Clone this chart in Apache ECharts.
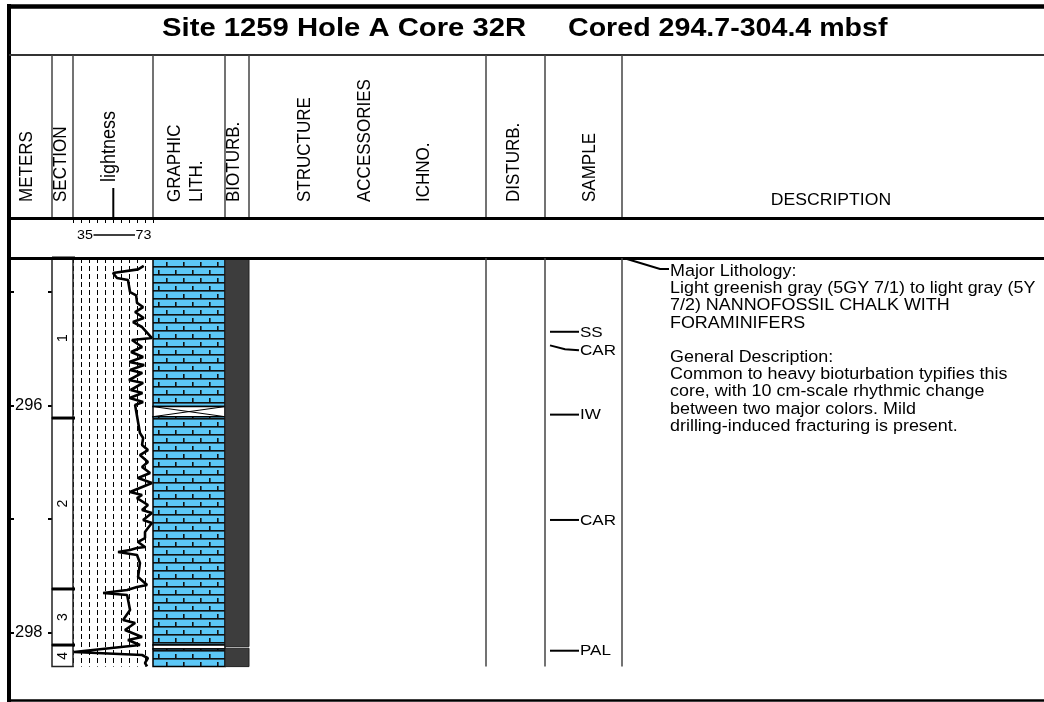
<!DOCTYPE html>
<html><head><meta charset="utf-8">
<script src="https://cdn.jsdelivr.net/npm/echarts@6/dist/echarts.min.js"></script>
<style>html,body{margin:0;padding:0;background:#fff}#c{width:1044px;height:702px}</style>
</head><body><div id="c"></div>
<script>
// ---------------- data ----------------
const titleLeft = 'Site 1259 Hole A Core 32R';
const titleRight = 'Cored 294.7-304.4 mbsf';
const coreTop = 294.7;
const coreBottom = 298.3;
const meterTicks = [295, 296, 297, 298];
const meterLabels = [296, 298];
const lightnessMin = 35;
const lightnessMax = 73;
const lightnessStep = 3.8;
const sectionNames = ['1', '2', '3', '4'];
const sectionTops = [294.7, 296.11, 297.616, 298.11];
const sectionBottoms = [296.11, 297.616, 298.11, 298.3];
const lithTops = [294.7, 296.009, 296.098, 298.110, 298.145];
const lithBottoms = [296.009, 296.098, 298.110, 298.145, 298.3];
const lithTypes = ['chalk', 'void', 'chalk', 'void', 'chalk'];
const bioturbTops = [294.7, 298.138];
const bioturbBottoms = [298.124, 298.3];
const sampleDepths = [295.35, 295.47, 296.08, 297.008, 298.160];
const sampleLabels = ['SS', 'CAR', 'IW', 'CAR', 'PAL'];
const lightDepth = [294.77, 294.8, 294.832, 294.876, 294.894, 295.0, 295.03, 295.096, 295.132, 295.176, 295.229, 295.264, 295.308, 295.405, 295.422, 295.484, 295.528, 295.572, 295.616, 295.643, 295.687, 295.713, 295.775, 295.801, 295.863, 295.889, 295.933, 295.969, 295.995, 296.242, 296.286, 296.348, 296.392, 296.436, 296.497, 296.541, 296.594, 296.638, 296.682, 296.762, 296.788, 296.815, 296.876, 296.92, 296.947, 297.008, 297.035, 297.079, 297.114, 297.167, 297.202, 297.246, 297.255, 297.273, 297.29, 297.317, 297.387, 297.511, 297.581, 297.599, 297.625, 297.652, 297.669, 297.801, 297.889, 297.916, 297.978, 298.039, 298.066, 298.11, 298.171, 298.198, 298.225, 298.268, 298.298];
const lightValue = [68.6, 65.9, 54.0, 55.9, 61.1, 62.1, 65.0, 65.4, 68.3, 64.5, 68.6, 63.5, 67.8, 72.5, 63.0, 67.8, 62.6, 68.3, 61.8, 68.8, 62.1, 67.9, 61.6, 68.3, 62.4, 68.0, 61.9, 68.3, 64.5, 66.8, 68.3, 67.8, 70.6, 66.8, 70.6, 67.8, 71.6, 65.9, 72.5, 62.1, 67.8, 65.4, 70.6, 67.8, 72.5, 68.3, 72.5, 70.6, 69.2, 69.2, 65.9, 69.2, 65.4, 62.1, 56.4, 65.4, 66.8, 65.9, 70.2, 65.4, 60.7, 49.3, 60.7, 62.1, 58.8, 64.5, 59.7, 67.8, 61.1, 66.8, 35.5, 67.8, 70.6, 69.2, 70.2];
const headerLabels = ['METERS', 'SECTION', 'lightness', 'GRAPHIC\nLITH.', 'BIOTURB.', 'STRUCTURE', 'ACCESSORIES', 'ICHNO.', 'DISTURB.', 'SAMPLE'];
const descriptionTitle = 'DESCRIPTION';
const descriptionDepth = 294.7;
const descriptionLines = [
  'Major Lithology:',
  'Light greenish gray (5GY 7/1) to light gray (5Y',
  '7/2) NANNOFOSSIL CHALK WITH',
  'FORAMINIFERS',
  '',
  'General Description:',
  'Common to heavy bioturbation typifies this',
  'core, with 10 cm-scale rhythmic change',
  'between two major colors. Mild',
  'drilling-induced fracturing is present.'
];

// ---------------- layout ----------------
const FONT = '"Liberation Sans", Arial, Helvetica, sans-serif';
const SX = 1.1;              // horizontal stretch of the original figure
const DATA_TOP = 258;
const PXM = 113.5;           // pixels per metre
const coreH = (coreBottom - coreTop) * PXM;
const metersH = 443;
const metersMax = coreTop + metersH / PXM;
const headerX = [27, 61, 110, 186, 233.5, 305, 365, 424, 513.5, 590];
const headerBottom = [202, 202, 182, 202, 202, 202, 202, 202, 202, 202];
const headerSize = [17, 17, 18, 17, 17, 17, 17, 17, 17, 17];

function chalkPattern() {
  const c = document.createElement('canvas');
  c.width = 17; c.height = 16;
  const g = c.getContext('2d');
  g.fillStyle = '#5cc7f6'; g.fillRect(0, 0, 17, 16);
  g.fillStyle = '#111';
  g.fillRect(0, 2, 17, 1.6);
  g.fillRect(0, 10, 17, 1.6);
  g.fillRect(13, 6, 1.6, 4);
  g.fillRect(5, 0, 1.6, 2);
  g.fillRect(5, 14, 1.6, 2);
  return c;
}
const PATTERN = { image: chalkPattern(), repeat: 'repeat' };

const grids = [
  { left: 9, top: DATA_TOP, width: 43, height: metersH },      // 0 meters
  { left: 52, top: DATA_TOP, width: 21, height: coreH },       // 1 section
  { left: 73, top: DATA_TOP, width: 80, height: coreH },       // 2 lightness
  { left: 153, top: DATA_TOP, width: 72, height: coreH },      // 3 lith
  { left: 225, top: DATA_TOP, width: 24, height: coreH },      // 4 bioturb
  { left: 545, top: DATA_TOP, width: 77, height: coreH },      // 5 sample
  { left: 622, top: DATA_TOP, width: 422, height: coreH }      // 6 description
];

const dummyX = (gi) => ({ type: 'value', gridIndex: gi, min: 0, max: 1, show: false });
const depthY = (gi) => ({ type: 'value', gridIndex: gi, min: coreTop, max: coreBottom, inverse: true, show: false });

const xAxes = [
  dummyX(0), dummyX(1),
  { type: 'value', gridIndex: 2, min: lightnessMin, max: lightnessMax, interval: lightnessStep,
    axisLine: { show: false }, axisTick: { show: false }, axisLabel: { show: false },
    splitLine: { show: true, lineStyle: { color: '#000', width: 1, type: [5, 3] } } },
  { type: 'value', gridIndex: 2, position: 'top', offset: 40, min: lightnessMin, max: lightnessMax, interval: lightnessStep,
    axisLine: { show: false }, axisTick: { show: true, inside: true, length: 5, lineStyle: { color: '#000', width: 1 } },
    axisLabel: { show: false }, splitLine: { show: false } },
  dummyX(3), dummyX(4), dummyX(5), dummyX(6)
];

const yAxes = [
  { type: 'value', gridIndex: 0, position: 'left', min: coreTop, max: metersMax, inverse: true,
    axisLine: { show: false },
    axisTick: { show: true, inside: true, length: 5, customValues: meterTicks, lineStyle: { color: '#000', width: 2 } },
    axisLabel: { show: true, inside: true, margin: 6, customValues: meterLabels, fontSize: 16.5, fontFamily: FONT, color: '#000' },
    splitLine: { show: false } },
  { type: 'value', gridIndex: 0, position: 'right', min: coreTop, max: metersMax, inverse: true,
    axisLine: { show: false },
    axisTick: { show: true, inside: true, length: 4, customValues: meterTicks, lineStyle: { color: '#000', width: 2 } },
    axisLabel: { show: false }, splitLine: { show: false } },
  depthY(1), depthY(2), depthY(3), depthY(4), depthY(5), depthY(6)
];

// ---------------- series ----------------
const sectionSeries = {
  type: 'custom', xAxisIndex: 1, yAxisIndex: 2, z: 3,
  data: sectionNames.map((n, i) => [0, sectionTops[i], sectionBottoms[i]]),
  renderItem(params, api) {
    const cs = params.coordSys;
    const y1 = api.coord([0, api.value(1)])[1];
    const y2 = api.coord([0, api.value(2)])[1];
    return { type: 'group', children: [
      { type: 'rect', shape: { x: cs.x, y: y1, width: cs.width, height: y2 - y1 }, style: { fill: '#fff', stroke: '#222', lineWidth: 1.5 } },
      { type: 'line', shape: { x1: cs.x, y1: y1, x2: cs.x + cs.width + 2, y2: y1 }, style: { stroke: '#000', lineWidth: 3 } },
      { type: 'text', x: cs.x + cs.width / 2, y: (y1 + y2) / 2, rotation: Math.PI / 2, scaleY: SX,
        style: { text: sectionNames[params.dataIndex], fontSize: 14, fontFamily: FONT, fill: '#000', align: 'center', verticalAlign: 'middle' } }
    ] };
  }
};

const lightSeries = {
  type: 'line', xAxisIndex: 2, yAxisIndex: 3, z: 5,
  data: lightValue.map((v, i) => [v, lightDepth[i]]),
  showSymbol: false, symbol: 'none',
  lineStyle: { color: '#000', width: 2.6 }
};

const lithSeries = {
  type: 'custom', xAxisIndex: 4, yAxisIndex: 4, z: 3,
  data: lithTypes.map((t, i) => [0, lithTops[i], lithBottoms[i]]),
  renderItem(params, api) {
    const cs = params.coordSys;
    const y1 = api.coord([0, api.value(1)])[1];
    const y2 = api.coord([0, api.value(2)])[1];
    const t = lithTypes[params.dataIndex];
    const kids = [];
    if (t === 'chalk') {
      kids.push({ type: 'rect', shape: { x: cs.x, y: y1, width: cs.width, height: y2 - y1 }, style: { fill: PATTERN, stroke: '#000', lineWidth: 1.5 } });
    } else {
      kids.push({ type: 'rect', shape: { x: cs.x, y: y1, width: cs.width, height: y2 - y1 }, style: { fill: '#fff', stroke: '#000', lineWidth: 1.5 } });
      if (y2 - y1 > 6) {
        kids.push({ type: 'line', shape: { x1: cs.x, y1: y1, x2: cs.x + cs.width, y2: y2 }, style: { stroke: '#000', lineWidth: 1 } });
        kids.push({ type: 'line', shape: { x1: cs.x, y1: y2, x2: cs.x + cs.width, y2: y1 }, style: { stroke: '#000', lineWidth: 1 } });
      }
    }
    return { type: 'group', children: kids };
  }
};

const bioSeries = {
  type: 'custom', xAxisIndex: 5, yAxisIndex: 5, z: 3,
  data: bioturbTops.map((t, i) => [0, t, bioturbBottoms[i]]),
  renderItem(params, api) {
    const cs = params.coordSys;
    const y1 = api.coord([0, api.value(1)])[1];
    const y2 = api.coord([0, api.value(2)])[1];
    return { type: 'rect', shape: { x: cs.x, y: y1, width: cs.width, height: y2 - y1 }, style: { fill: '#3d3d3d', stroke: '#222', lineWidth: 1 } };
  }
};

const sampleSeries = {
  type: 'custom', xAxisIndex: 6, yAxisIndex: 6, z: 3,
  data: sampleDepths.map((d) => [0, d]),
  renderItem(params, api) {
    const cs = params.coordSys;
    const ys = sampleDepths.map((d) => api.coord([0, d])[1]);
    const ly = [];
    ys.forEach((y, k) => { ly.push(k > 0 && y - ly[k - 1] < 18 ? ly[k - 1] + 18.5 : y); });
    const i = params.dataIndex;
    const x0 = cs.x + 5, x1 = cs.x + 34;
    const pts = ly[i] === ys[i] ? [[x0, ys[i]], [x1, ys[i]]] : [[x0, ys[i]], [x0 + 15, ly[i] - 1], [x1, ly[i]]];
    return { type: 'group', children: [
      { type: 'polyline', shape: { points: pts }, style: { stroke: '#000', lineWidth: 2, fill: null } },
      { type: 'text', x: x1 + 1, y: ly[i] + 0.5, scaleX: SX,
        style: { text: sampleLabels[i], fontSize: 15.5, fontFamily: FONT, fill: '#000', align: 'left', verticalAlign: 'middle' } }
    ] };
  }
};

const descSeries = {
  type: 'custom', xAxisIndex: 7, yAxisIndex: 7, z: 3,
  data: [[0, descriptionDepth]],
  renderItem(params, api) {
    const cs = params.coordSys;
    const y0 = api.coord([0, api.value(1)])[1];
    const ty = y0 + 11;
    const lh = 17.2;
    return { type: 'group', children: [
      { type: 'polyline', shape: { points: [[cs.x + 5, y0 + 1], [cs.x + 38, ty], [cs.x + 47, ty]] }, style: { stroke: '#000', lineWidth: 2, fill: null } },
      { type: 'text', x: cs.x + 48, y: ty - lh / 2 + 2.5, scaleX: SX,
        style: { text: descriptionLines.join('\n'), fontSize: 16.3, lineHeight: lh, fontFamily: FONT, fill: '#000', align: 'left', verticalAlign: 'top' } }
    ] };
  }
};

// ---------------- frame / header graphics ----------------
const L = (x1, y1, x2, y2, w, c) => ({ type: 'line', silent: true, z: 100, shape: { x1, y1, x2, y2 }, style: { stroke: c || '#000', lineWidth: w } });
const graphics = [];
graphics.push(L(7, 6.5, 1044, 6.5, 4.5));          // top border
graphics.push(L(9, 4, 9, 702, 4));                 // left border
graphics.push(L(9, 55, 1044, 55, 2, '#333'));      // title separator
[52, 73, 153, 225, 249, 486, 545, 622].forEach((x) => graphics.push(L(x, 55, x, 218, 1.5, '#444')));
graphics.push(L(9, 218.5, 1044, 218.5, 3));        // header bottom
graphics.push(L(9, 258.5, 1044, 258.5, 3));        // data top
[486, 545, 622].forEach((x) => graphics.push(L(x, 258, x, 666.5, 1.5, '#444')));
graphics.push(L(9, 700.5, 1044, 700.5, 2.5));      // bottom
graphics.push(L(113.3, 188, 113.3, 218, 2));       // lightness marker
graphics.push(L(93.5, 235, 135, 235, 1.5));        // scale key line

const txt = (text, x, y, size, align, sx, bold) => ({ type: 'text', silent: true, z: 101, x, y, scaleX: sx,
  style: { text, fontSize: size, fontWeight: bold ? 'bold' : 'normal', fontFamily: FONT, fill: '#000', align, verticalAlign: 'middle' } });
graphics.push(txt(titleLeft, 162, 28.5, 26, 'left', 1.125, true));
graphics.push(txt(titleRight, 568, 28.5, 26, 'left', 1.1, true));
graphics.push(txt(descriptionTitle, 831, 201, 16, 'center', SX, false));
graphics.push(txt(String(lightnessMin), 93, 235.5, 13, 'right', SX, false));
graphics.push(txt(String(lightnessMax), 135.5, 235.5, 13, 'left', SX, false));
headerLabels.forEach((h, i) => {
  graphics.push({ type: 'text', silent: true, z: 101, x: headerX[i], y: headerBottom[i], rotation: Math.PI / 2, scaleY: SX,
    style: { text: h, fontSize: headerSize[i], lineHeight: 20, fontFamily: FONT, fill: '#000', align: 'left', verticalAlign: 'middle' } });
});

const chart = echarts.init(document.getElementById('c'), null, { renderer: 'canvas' });
chart.setOption({
  animation: false,
  backgroundColor: '#fff',
  grid: grids,
  xAxis: xAxes,
  yAxis: yAxes,
  series: [sectionSeries, lightSeries, lithSeries, bioSeries, sampleSeries, descSeries],
  graphic: graphics
});
</script>
</body></html>
